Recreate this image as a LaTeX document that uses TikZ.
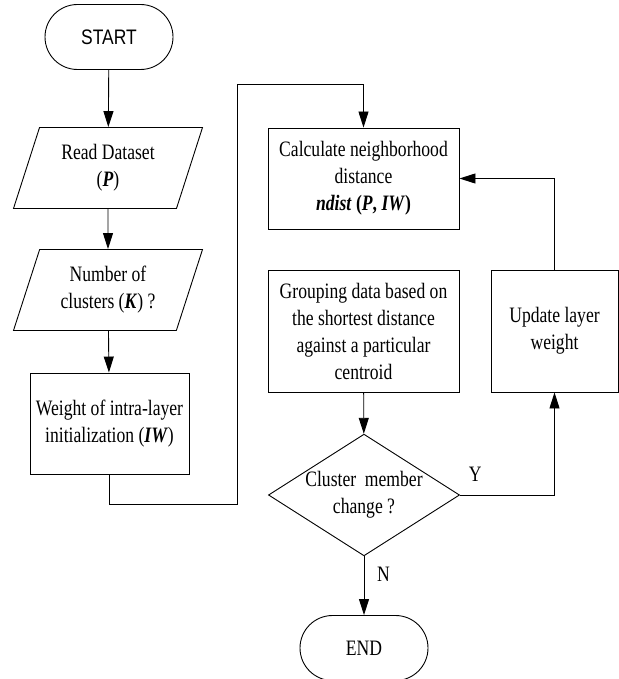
\documentclass[tikz,border=0pt]{standalone}
\usepackage{fontspec}
\setmainfont{Liberation Serif}[FakeStretch=0.8]
\newfontfamily\termfont{Liberation Sans}[FakeStretch=0.83]
\usetikzlibrary{shapes.geometric,shapes.misc,arrows.meta}
\tikzset{
  term/.style={draw, rounded rectangle, minimum width=64pt, minimum height=32.5pt, inner sep=0pt},
  inout/.style={draw, trapezium, trapezium left angle=61, trapezium right angle=119, trapezium stretches body,
    minimum width=94.5pt, minimum height=40.5pt, inner sep=0pt, align=center},
  proc/.style={draw, rectangle, inner sep=0pt, align=center},
  decide/.style={draw, diamond, aspect=1.57, minimum width=95pt, minimum height=60.5pt, inner sep=0pt, align=center},
}
\begin{document}
\begin{tikzpicture}[x=0.5pt, y=-0.5pt, >={Triangle[length=8pt,width=5pt]}, line width=0.45pt,
  font=\fontsize{11}{13.5}\selectfont]
  \useasboundingbox (0,0) rectangle (619,679);
  \node[term, font=\fontsize{10.5}{12}\termfont] (start) at (109,37) {START};
  \node[inout] (read) at (108,168) {Read Dataset\\(\textbf{\textit{P}})};
  \node[inout] (num) at (108,290) {Number of\\clusters (\textbf{\textit{K}}) ?};
  \node[proc, minimum width=79.5pt, minimum height=50.5pt] (weight) at (109.5,423.5)
    {Weight of intra-layer\\initialization (\textbf{\textit{IW}})};
  \node[proc, minimum width=95.5pt, minimum height=50.5pt] (calc) at (363.5,178.5)
    {Calculate neighborhood\\distance\\\textbf{\textit{ndist}} \textbf{(\textit{P}, \textit{IW})}};
  \node[proc, minimum width=95.5pt, minimum height=61pt] (group) at (363.5,331)
    {Grouping data based on\\the shortest distance\\against a particular\\centroid};
  \node[proc, minimum width=63.5pt, minimum height=61pt] (update) at (554.5,331) {Update layer\\weight};
  \node[decide] (change) at (364,495) {Cluster\ \ member\\change ?};
  \node[term] (finish) at (364,648) {END};
  \coordinate (c1) at (237,504);
  \coordinate (c2) at (237,84);
  \draw[->] (start) -- (read);
  \draw[->] (read) -- (num);
  \draw[->] (num) -- (weight);
  \draw[->] (weight.south) |- (c1) -- (c2) -| (calc.north);
  \draw[->] (group) -- (change);
  \draw[->] (change.east) -| node[pos=0.08, above=3pt] (yes) {Y} (update.south);
  \draw[->] (update.north) |- (calc.east);
  \draw[->] (change.south) -- node[pos=0.3, right=3pt] (no) {N} (finish.north);
\end{tikzpicture}
\end{document}
